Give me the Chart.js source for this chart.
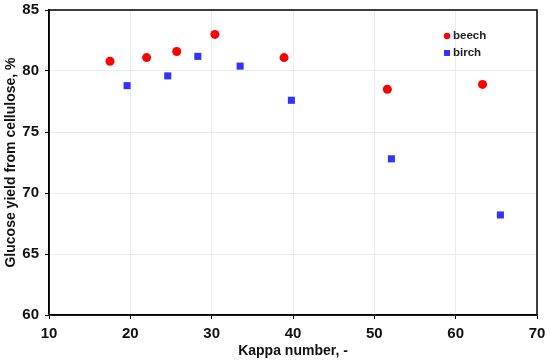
<!DOCTYPE html>
<html>
<head>
<meta charset="utf-8">
<script src="https://cdn.jsdelivr.net/npm/chart.js@4.4.1/dist/chart.umd.min.js"></script>
<style>
  html, body { margin: 0; padding: 0; background: #fff; }
  #wrap { width: 550px; height: 364px; position: relative; }
</style>
</head>
<body>
<div id="wrap"><canvas id="chart"></canvas></div>
<script>
// ── Data ──────────────────────────────────────────────────────────────
const beechKappa = [17.5, 22.0, 25.7, 30.4, 38.9, 51.6, 63.3];
const beechYield = [80.8, 81.1, 81.6, 83.0, 81.1, 78.5, 78.9];
const birchKappa = [19.6, 24.6, 28.3, 33.5, 39.8, 52.1, 65.5];
const birchYield = [78.8, 79.6, 81.2, 80.4, 77.6, 72.8, 68.2];
const seriesNames = ['beech', 'birch'];

const FONT = "'Liberation Sans', Arial, sans-serif";
const RED  = '#ff0000';
const BLUE = '#3333ff';

const toPts = (xs, ys) => xs.map((x, i) => ({ x, y: ys[i] }));

// box around plot area + legend inside
const frame = {
    id: 'frame',
    afterDraw(chart) {
        const { ctx, chartArea: a } = chart;
        ctx.save();
        ctx.strokeStyle = '#000';
        ctx.lineWidth = 1.5;
        ctx.strokeRect(a.left, a.top, a.right - a.left, a.bottom - a.top);

        // legend
        ctx.font = 'bold 11.5px ' + FONT;
        ctx.textBaseline = 'middle';
        const lx = 447, ly = [36, 53];
        ctx.fillStyle = RED;
        ctx.beginPath(); ctx.arc(lx, ly[0], 3.2, 0, Math.PI * 2); ctx.fill();
        ctx.fillStyle = BLUE;
        ctx.fillRect(lx - 3, ly[1] - 3, 6, 6);
        ctx.fillStyle = '#222';
        ctx.fillText(seriesNames[0], lx + 6, ly[0]);
        ctx.fillText(seriesNames[1], lx + 6, ly[1]);
        ctx.restore();
    }
};

new Chart(document.getElementById('chart'), {
    type: 'scatter',
    data: {
        datasets: [{
            label: seriesNames[0],
            data: toPts(beechKappa, beechYield),
            pointStyle: 'circle',
            pointRadius: 4.5,
            backgroundColor: RED,
            borderColor: RED,
            borderWidth: 0
        }, {
            label: seriesNames[1],
            data: toPts(birchKappa, birchYield),
            pointStyle: 'rect',
            pointRadius: 5,
            backgroundColor: BLUE,
            borderColor: BLUE,
            borderWidth: 0
        }]
    },
    options: {
        responsive: true,
        maintainAspectRatio: false,
        animation: false,
        layout: { padding: { top: 10, right: 13, left: 0, bottom: 0 } },
        plugins: {
            legend: { display: false },
            tooltip: { enabled: false }
        },
        scales: {
            x: {
                type: 'linear',
                min: 10, max: 70,
                afterFit: s => { s.height = 49; s.paddingLeft = 0; s.paddingRight = 0; },
                ticks: {
                    stepSize: 10,
                    color: '#111',
                    padding: 6,
                    font: { family: FONT, size: 15, weight: 'bold' }
                },
                grid: { color: '#ebebeb', tickColor: '#000', tickLength: 4, lineWidth: 1 },
                border: { color: '#000', width: 1.5 },
                title: {
                    display: true,
                    text: 'Kappa number, -',
                    color: '#111',
                    padding: { top: 0, bottom: 4 },
                    font: { family: FONT, size: 14, weight: 'bold' }
                }
            },
            y: {
                type: 'linear',
                min: 60, max: 85,
                afterFit: s => { s.width = 49; s.paddingTop = 0; s.paddingBottom = 0; },
                ticks: {
                    stepSize: 5,
                    color: '#111',
                    padding: 6,
                    font: { family: FONT, size: 15, weight: 'bold' }
                },
                grid: { color: '#ebebeb', tickColor: '#000', tickLength: 4, lineWidth: 1 },
                border: { color: '#000', width: 1.5 },
                title: {
                    display: true,
                    text: 'Glucose yield from cellulose, %',
                    color: '#111',
                    padding: { top: 3, bottom: 0 },
                    font: { family: FONT, size: 14, weight: 'bold' }
                }
            }
        }
    },
    plugins: [frame]
});
</script>
</body>
</html>
